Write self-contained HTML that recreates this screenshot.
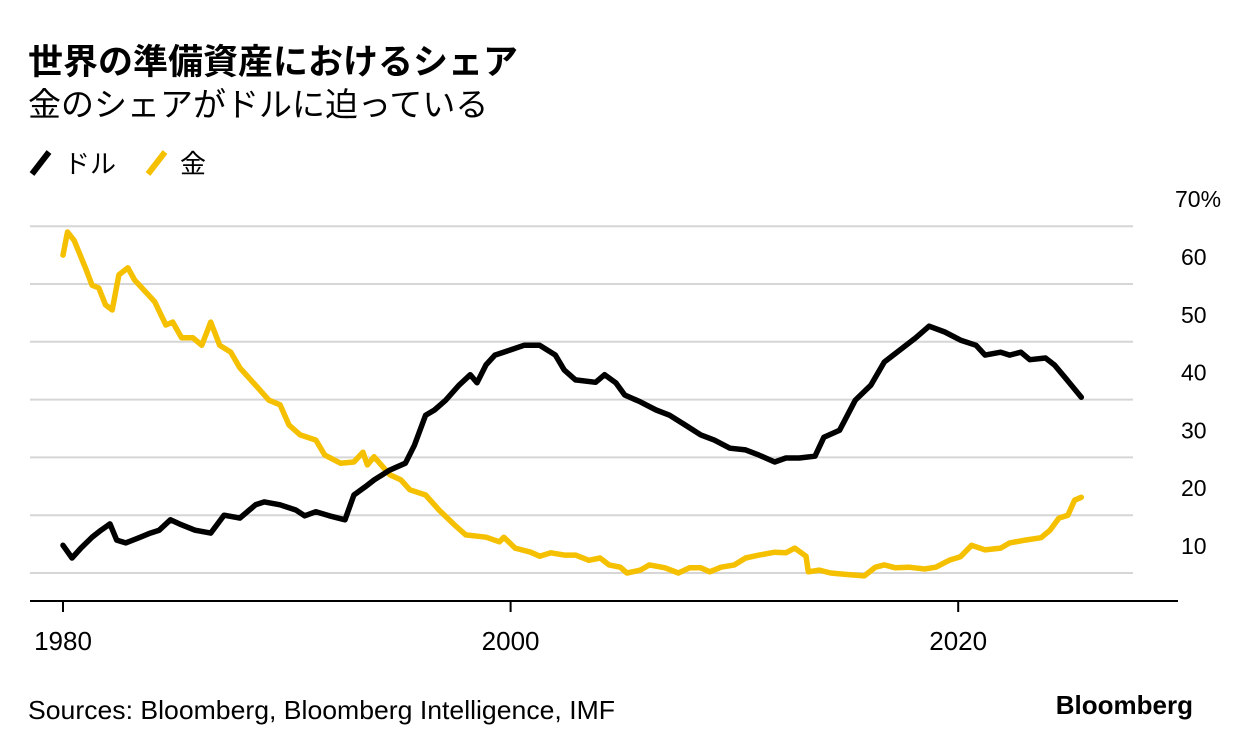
<!DOCTYPE html>
<html><head><meta charset="utf-8"><style>
body{margin:0;background:#fff;width:1233px;height:750px;overflow:hidden;font-family:"Liberation Sans","Noto Sans CJK JP",sans-serif;}
svg text{font-family:"Liberation Sans","Noto Sans CJK JP",sans-serif;}
</style></head><body>
<svg id="chart" width="1233" height="750" xmlns="http://www.w3.org/2000/svg">
<text x="28" y="74" font-size="35" font-weight="bold" fill="#000">世界の準備資産におけるシェア</text>
<text x="28" y="116" font-size="33" fill="#000">金のシェアがドルに迫っている</text>
<g>
<line x1="32" y1="174" x2="49" y2="152" stroke="#000" stroke-width="6"/>
<text x="64" y="173" font-size="26">ドル</text>
<line x1="148" y1="174" x2="165" y2="152" stroke="#f5c000" stroke-width="6"/>
<text x="180" y="173" font-size="26">金</text>
</g>
<g id="grid"></g><g id="lines"></g>
<text x="28" y="719" font-size="26" textLength="587" lengthAdjust="spacingAndGlyphs">Sources: Bloomberg, Bloomberg Intelligence, IMF</text>
<text x="1193" y="714" font-size="26" font-weight="bold" text-anchor="end">Bloomberg</text>
</svg>
<script>
const yTicks=[10,20,30,40,50,60,70];
const xTicks=[1980,2000,2020];
const dollarYears=[1980.0,1980.4,1980.8,1981.3,1981.7,1982.1,1982.4,1982.8,1983.4,1983.9,1984.3,1984.8,1985.2,1985.9,1986.6,1987.2,1987.9,1988.6,1989.0,1989.7,1990.4,1990.8,1991.3,1991.9,1992.6,1993.0,1993.5,1993.9,1994.6,1995.3,1995.7,1996.2,1996.6,1997.1,1997.7,1998.2,1998.5,1998.9,1999.3,2000.0,2000.6,2001.3,2002.0,2002.4,2002.9,2003.8,2004.2,2004.7,2005.1,2005.8,2006.5,2007.1,2007.8,2008.5,2009.1,2009.8,2010.5,2011.1,2011.8,2012.3,2012.9,2013.6,2014.0,2014.7,2015.4,2016.1,2016.7,2017.4,2018.1,2018.7,2019.4,2020.1,2020.8,2021.2,2021.9,2022.3,2022.8,2023.2,2023.9,2024.3,2024.8,2025.5];
const dollarShare=[14.8,12.6,14.3,16.2,17.4,18.5,15.7,15.2,16.1,16.9,17.4,19.2,18.5,17.4,16.9,20.0,19.5,21.8,22.3,21.8,20.9,19.9,20.6,19.9,19.2,23.5,24.9,26.1,27.8,29.0,32.1,37.3,38.2,39.9,42.5,44.3,42.9,46.0,47.7,48.6,49.4,49.4,47.7,45.1,43.4,43.0,44.3,42.9,40.8,39.6,38.2,37.3,35.6,33.9,33.0,31.6,31.3,30.4,29.2,29.9,29.9,30.2,33.5,34.7,39.9,42.5,46.5,48.6,50.7,52.7,51.7,50.3,49.4,47.7,48.2,47.7,48.2,46.9,47.2,46.0,43.7,40.4];
const goldYears=[1980.0,1980.2,1980.5,1981.0,1981.3,1981.6,1981.9,1982.2,1982.5,1982.9,1983.2,1983.7,1984.1,1984.6,1984.9,1985.3,1985.8,1986.2,1986.6,1987.0,1987.5,1987.9,1988.6,1989.2,1989.7,1990.1,1990.6,1991.3,1991.7,1992.4,1993.0,1993.4,1993.6,1993.9,1994.6,1995.1,1995.5,1996.2,1996.8,1997.5,1998.0,1998.9,1999.5,1999.7,2000.2,2000.9,2001.3,2001.8,2002.4,2002.9,2003.5,2004.0,2004.4,2004.9,2005.2,2005.8,2006.2,2006.9,2007.5,2008.0,2008.5,2008.9,2009.4,2010.0,2010.5,2011.1,2011.8,2012.3,2012.7,2013.2,2013.3,2013.8,2014.3,2014.9,2015.8,2016.3,2016.7,2017.2,2017.8,2018.5,2019.0,2019.6,2020.1,2020.6,2021.2,2021.9,2022.3,2023.0,2023.7,2024.1,2024.5,2024.9,2025.2,2025.5];
const goldShare=[65.0,69.0,67.5,62.8,59.8,59.3,56.4,55.5,61.6,62.8,60.7,58.6,56.9,52.9,53.4,50.7,50.7,49.4,53.4,49.4,48.2,45.5,42.5,39.9,39.1,35.6,33.9,33.0,30.4,29.0,29.2,30.9,28.7,30.1,27.0,26.1,24.4,23.5,20.9,18.3,16.6,16.2,15.4,16.2,14.3,13.6,12.9,13.5,13.1,13.1,12.2,12.6,11.4,11.0,10.0,10.5,11.4,10.9,10.0,10.9,10.9,10.2,11.0,11.4,12.6,13.1,13.6,13.5,14.3,12.9,10.2,10.5,10.0,9.8,9.5,11.0,11.4,10.9,11.0,10.7,11.0,12.2,12.8,14.8,14.0,14.3,15.2,15.7,16.1,17.4,19.5,20.0,22.6,23.1];
const NS='http://www.w3.org/2000/svg';
const xS=y=>63+(y-1980)*22.38;
const yS=v=>573-(v-10)*5.78;
const grid=document.getElementById('grid'),lines=document.getElementById('lines');
function mk(tag,attrs,parent){const e=document.createElementNS(NS,tag);for(const k in attrs)e.setAttribute(k,attrs[k]);parent.appendChild(e);return e;}
yTicks.forEach(t=>{
  const l=mk('line',{x1:30,x2:1133,y1:yS(t),y2:yS(t),stroke:'#d6d6d6','stroke-width':2},grid);
  
  
  const tx=mk('text',{x:t===70?1175:1181,y:yS(t)-19,'font-size':23},grid);
  tx.textContent=t===70?'70%':String(t);
  
  
});
const ax=mk('line',{x1:30,x2:1178,y1:601,y2:601,stroke:'#000','stroke-width':2},grid);


xTicks.forEach(t=>{
  const k=mk('line',{x1:xS(t),x2:xS(t),y1:601,y2:612,stroke:'#000','stroke-width':2},grid);
  
  
  const tx=mk('text',{x:xS(t),y:650,'font-size':26,'text-anchor':'middle'},grid);
  tx.textContent=String(t);
  
  
});
function path(xs,vs){return xs.map((x,i)=>(i?'L':'M')+xS(x).toFixed(1)+' '+yS(vs[i]).toFixed(1)).join(' ');}
const g=mk('path',{d:path(goldYears,goldShare),fill:'none',stroke:'#f5c000','stroke-width':5.5,'stroke-linejoin':'round','stroke-linecap':'round'},lines);


const d=mk('path',{d:path(dollarYears,dollarShare),fill:'none',stroke:'#000','stroke-width':5.5,'stroke-linejoin':'round','stroke-linecap':'round'},lines);


</script>
</body></html>
